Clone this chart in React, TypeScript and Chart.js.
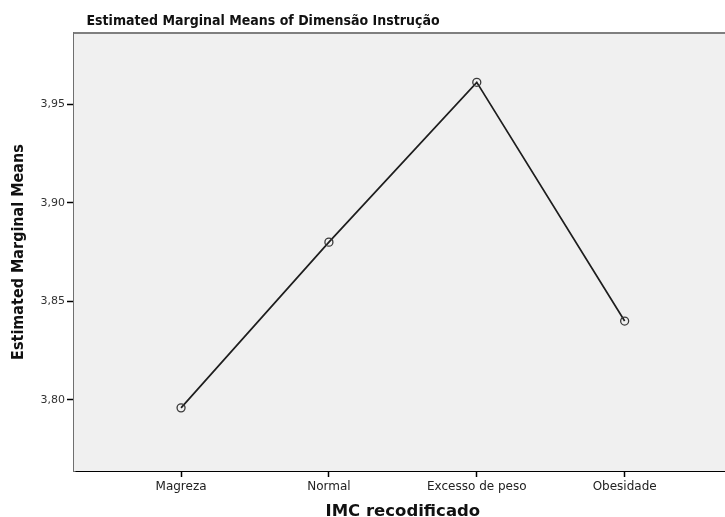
import React, { useEffect, useRef } from "react";
import { Chart, registerables } from "chart.js";

Chart.register(...registerables);

const chartTitle = "Estimated Marginal Means of Dimensão Instrução";
const xAxisTitle = "IMC recodificado";
const yAxisTitle = "Estimated Marginal Means";
const categories = ["Magreza", "Normal", "Excesso de peso", "Obesidade"];
const means = [3.796, 3.88, 3.961, 3.84];
const yTicks = [3.8, 3.85, 3.9, 3.95];
const yTickLabels = ["3,80", "3,85", "3,90", "3,95"];

const W = 737;
const H = 517;

const framePlugin = {
  id: "frame",
  beforeDatasetsDraw(chart: any) {
    const { ctx, chartArea } = chart;
    ctx.save();
    ctx.fillStyle = "#f0f0f0";
    ctx.fillRect(chartArea.left, chartArea.top, chartArea.right - chartArea.left, chartArea.bottom - chartArea.top);
    ctx.strokeStyle = "#7f7f7f";
    ctx.lineWidth = 2;
    ctx.beginPath();
    ctx.moveTo(chartArea.left, chartArea.top);
    ctx.lineTo(chartArea.right, chartArea.top);
    ctx.stroke();
    ctx.restore();
  },
  afterDraw(chart: any) {
    const { ctx, chartArea } = chart;
    ctx.save();
    ctx.fillStyle = "#111";
    ctx.font = "bold 14px 'DejaVu Sans Condensed', 'DejaVu Sans', sans-serif";
    ctx.textAlign = "center";
    ctx.textBaseline = "middle";
    ctx.fillText(chartTitle, chartArea.left + 189, 21);
    ctx.restore();
  },
};

export default function App() {
  const ref = useRef<HTMLCanvasElement>(null);
  useEffect(() => {
    document.body.style.margin = "0";
    const canvas = ref.current!;
    const chart = new Chart(canvas, {
      type: "line",
      data: {
        datasets: [
          {
            data: means.map((v, i) => ({ x: i, y: v })),
            borderColor: "#1e1e1e",
            borderWidth: 1.7,
            pointRadius: 4,
            pointBorderWidth: 1.3,
            pointBorderColor: "#3a3a3a",
            pointBackgroundColor: "rgba(0,0,0,0)",
            tension: 0,
          },
        ],
      },
      options: {
        responsive: false,
        animation: false,
        devicePixelRatio: 1,
        layout: { padding: { top: 33, right: 0, left: 0, bottom: 0 } },
        plugins: { legend: { display: false }, tooltip: { enabled: false }, title: { display: false } },
        scales: {
          x: {
            type: "linear",
            min: -0.724,
            max: 3.724,
            afterBuildTicks: (s: any) => {
              s.ticks = categories.map((_, i) => ({ value: i }));
            },
            afterFit: (s: any) => {
              s.height = H - 471;
            },
            ticks: {
              callback: (v: any) => categories[v] ?? "",
              color: "#222",
              font: { family: "'DejaVu Sans', sans-serif", size: 12 },
              padding: 3,
              maxRotation: 0,
              autoSkip: false,
            },
            grid: { drawOnChartArea: false, drawTicks: true, tickLength: 6, color: "#000", tickWidth: 1.5 },
            border: { display: true, color: "#000", width: 2 },
            title: {
              display: true,
              text: xAxisTitle,
              color: "#111",
              font: { family: "'DejaVu Sans', sans-serif", size: 16.5, weight: "bold" },
              padding: { top: 0, bottom: -5 },
            },
          },
          y: {
            type: "linear",
            min: 3.764,
            max: 3.986,
            afterBuildTicks: (s: any) => {
              s.ticks = yTicks.map((v) => ({ value: v }));
            },
            afterFit: (s: any) => {
              s.width = 74;
            },
            ticks: {
              callback: (v: any) => yTickLabels[yTicks.indexOf(v)] ?? "",
              color: "#333",
              font: { family: "'DejaVu Sans', sans-serif", size: 11 },
              padding: 2,
            },
            grid: { drawOnChartArea: false, drawTicks: true, tickLength: 7, color: "#000", tickWidth: 1.5 },
            border: { display: true, color: "#6f6f6f", width: 2.5 },
            title: {
              display: true,
              text: yAxisTitle,
              color: "#111",
              font: { family: "'DejaVu Sans Condensed', 'DejaVu Sans', sans-serif", size: 16, weight: "bold" },
              padding: { top: 9, bottom: 0 },
            },
          },
        },
      },
      plugins: [framePlugin],
    });
    return () => chart.destroy();
  }, []);
  return (
    <div style={{ position: "fixed", left: 0, top: 0, width: 725, height: H, overflow: "hidden", background: "#fff" }}>
      <canvas ref={ref} width={W} height={H} style={{ display: "block", width: W, height: H }} />
    </div>
  );
}
